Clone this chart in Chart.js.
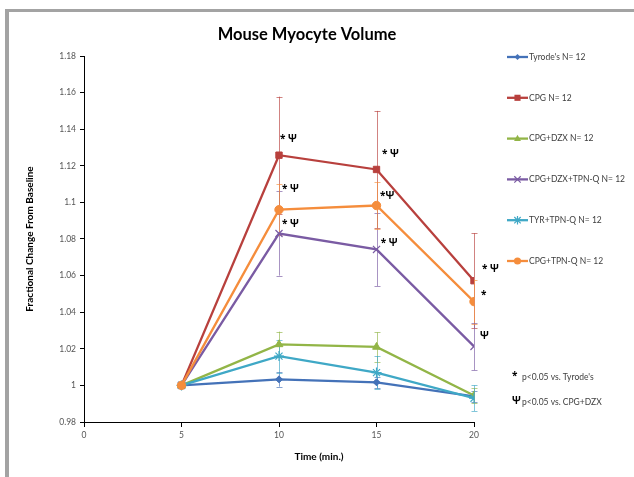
<!DOCTYPE html>
<html><head><meta charset="utf-8">
<script src="https://cdn.jsdelivr.net/npm/chart.js@4.4.0/dist/chart.umd.min.js"></script>
<style>html,body{margin:0;padding:0;background:#fff;overflow:hidden}#wrap{width:634px;height:477px;position:relative}</style>
</head><body><div id="wrap"><canvas id="c" width="634" height="477"></canvas></div>
<script>
const chartTitle = 'Mouse Myocyte Volume';
const xTitle = 'Time (min.)';
const yTitle = 'Fractional Change From Baseline';
const times = [5, 10, 15, 20];
const xTicks = [0, 5, 10, 15, 20];
const yTicks = [0.98, 1.00, 1.02, 1.04, 1.06, 1.08, 1.10, 1.12, 1.14, 1.16, 1.18];
const seriesNames = ["Tyrode's N= 12", 'CPG N= 12', 'CPG+DZX N= 12', 'CPG+DZX+TPN-Q N= 12', 'TYR+TPN-Q N= 12', 'CPG+TPN-Q N= 12'];
const tyrode     = [1.000, 1.0033, 1.0017, 0.9940];
const cpg        = [1.000, 1.1258, 1.1180, 1.0572];
const cpgDzx     = [1.000, 1.0224, 1.0210, 0.9945];
const cpgDzxTpnq = [1.000, 1.0830, 1.0743, 1.0213];
const tyrTpnq    = [1.000, 1.0160, 1.0070, 0.9930];
const cpgTpnq    = [1.000, 1.0960, 1.0983, 1.0458];
const tyrodeErr     = [0, 0.004, 0.003, 0.003];
const cpgErr        = [0, 0.032, 0.032, 0.026];
const cpgDzxErr     = [0, 0.007, 0.008, 0.004];
const cpgDzxTpnqErr = [0, 0.023, 0.020, 0.013];
const tyrTpnqErr    = [0, 0.009, 0.009, 0.007];
const cpgTpnqErr    = [0, 0.014, 0.013, 0.012];
const sigNotes = [
  {x: 10.05, y: 1.1344, text: '* Ψ'},
  {x: 15.28, y: 1.1262, text: '* Ψ'},
  {x: 20.41, y: 1.0634, text: '* Ψ'},
  {x: 10.15, y: 1.1071, text: '* Ψ'},
  {x: 15.18, y: 1.1033, text: '*Ψ'},
  {x: 20.36, y: 1.0492, text: '*'},
  {x: 10.15, y: 1.0880, text: '* Ψ'},
  {x: 15.22, y: 1.0776, text: '* Ψ'},
  {x: 20.31, y: 1.0268, text: 'Ψ'}
];
const footnotes = [
  {sym: '*', text: "p<0.05 vs. Tyrode's"},
  {sym: 'Ψ', text: 'p<0.05 vs. CPG+DZX'}
];

const values = [tyrode, cpg, cpgDzx, cpgDzxTpnq, tyrTpnq, cpgTpnq];
const errs = [tyrodeErr, cpgErr, cpgDzxErr, cpgDzxTpnqErr, tyrTpnqErr, cpgTpnqErr];
const colors = ['#4472B8', '#B8403D', '#92B547', '#7A5BA3', '#3FA8C6', '#F58D3C'];
const styles = ['rectRot', 'rect', 'triangle', 'crossRot', 'star', 'circle'];
const radii = [3.5, 4.5, 4.5, 5, 5, 4.2];
const FONT = 'Lato, "Open Sans", "Liberation Sans", sans-serif';
const SYMFONT = '"Open Sans", Lato, sans-serif';

const datasets = values.map((v, i) => ({
  label: seriesNames[i],
  data: times.map((t, j) => ({x: t, y: v[j]})),
  borderColor: colors[i],
  backgroundColor: colors[i],
  pointBackgroundColor: colors[i],
  pointBorderColor: colors[i],
  pointStyle: styles[i],
  pointRadius: radii[i],
  pointBorderWidth: (styles[i] === 'crossRot' || styles[i] === 'star') ? 1.2 : 1,
  borderWidth: 2.3,
  tension: 0,
  fill: false,
  order: values.length - i
}));

function drawMarker(ctx, style, x, y, r, color) {
  ctx.save();
  ctx.fillStyle = color; ctx.strokeStyle = color; ctx.lineWidth = 1.2;
  ctx.beginPath();
  if (style === 'circle') { ctx.arc(x, y, r, 0, Math.PI * 2); ctx.fill(); }
  else if (style === 'rect') { ctx.fillRect(x - r * 0.8, y - r * 0.8, r * 1.6, r * 1.6); }
  else if (style === 'rectRot') { ctx.moveTo(x, y - r); ctx.lineTo(x + r, y); ctx.lineTo(x, y + r); ctx.lineTo(x - r, y); ctx.closePath(); ctx.fill(); }
  else if (style === 'triangle') { ctx.moveTo(x, y - r); ctx.lineTo(x + r * 0.9, y + r * 0.6); ctx.lineTo(x - r * 0.9, y + r * 0.6); ctx.closePath(); ctx.fill(); }
  else if (style === 'crossRot') { const d = r * 0.75; ctx.moveTo(x - d, y - d); ctx.lineTo(x + d, y + d); ctx.moveTo(x + d, y - d); ctx.lineTo(x - d, y + d); ctx.stroke(); }
  else if (style === 'star') { const d = r * 0.75; ctx.moveTo(x - d, y - d); ctx.lineTo(x + d, y + d); ctx.moveTo(x + d, y - d); ctx.lineTo(x - d, y + d); ctx.moveTo(x, y - r); ctx.lineTo(x, y + r); ctx.stroke(); }
  ctx.restore();
}

const decor = {
  id: 'decor',
  beforeDraw(chart) {
    const ctx = chart.ctx;
    ctx.save();
    ctx.fillStyle = '#fff'; ctx.fillRect(0, 0, chart.width, chart.height);
    ctx.fillStyle = '#A3A3A3';
    ctx.fillRect(5, 9, chart.width - 5, 3);
    ctx.fillRect(5, 9, 4, chart.height - 9);
    ctx.restore();
  },
  beforeDatasetsDraw(chart) {
    const ctx = chart.ctx, xs = chart.scales.x, ys = chart.scales.y;
    ctx.save();
    ctx.lineWidth = 1;
    values.forEach((v, i) => {
      ctx.strokeStyle = colors[i];
      ctx.globalAlpha = 0.65;
      v.forEach((val, j) => {
        const e = errs[i][j];
        if (!e) return;
        const px = Math.round(xs.getPixelForValue(times[j])) + 0.5;
        const top = ys.getPixelForValue(val + e), bot = ys.getPixelForValue(val - e);
        ctx.beginPath();
        ctx.moveTo(px, top); ctx.lineTo(px, bot);
        ctx.moveTo(px - 3, Math.round(top) + 0.5); ctx.lineTo(px + 3, Math.round(top) + 0.5);
        ctx.moveTo(px - 3, Math.round(bot) + 0.5); ctx.lineTo(px + 3, Math.round(bot) + 0.5);
        ctx.stroke();
      });
    });
    ctx.restore();
  },
  afterDraw(chart) {
    const ctx = chart.ctx, xs = chart.scales.x, ys = chart.scales.y, ca = chart.chartArea;
    ctx.save();
    // title
    ctx.fillStyle = '#000';
    ctx.font = 'bold 16.5px ' + FONT;
    ctx.textAlign = 'center'; ctx.textBaseline = 'middle';
    ctx.fillText(chartTitle, 307, 35);
    // x title
    ctx.font = 'bold 10px ' + FONT;
    ctx.fillText(xTitle, (ca.left + ca.right) / 2 + 40, 457);
    // significance notes
    ctx.textAlign = 'left';
    ctx.font = 'bold 10px ' + SYMFONT;
    sigNotes.forEach(n => {
      ctx.fillText(n.text, xs.getPixelForValue(n.x), ys.getPixelForValue(n.y));
    });
    // legend
    const lx = ca.right + 33, ly0 = ca.top + 1, gap = 40.8;
    seriesNames.forEach((name, i) => {
      const y = ly0 + i * gap;
      ctx.strokeStyle = colors[i]; ctx.lineWidth = 2.3;
      ctx.beginPath(); ctx.moveTo(lx, y); ctx.lineTo(lx + 21, y); ctx.stroke();
      drawMarker(ctx, styles[i], lx + 10.5, y, radii[i] * 0.85, colors[i]);
      ctx.fillStyle = '#404040';
      ctx.font = '8.5px ' + FONT;
      ctx.textAlign = 'left'; ctx.textBaseline = 'middle';
      ctx.fillText(name, lx + 22, y);
    });
    // footnotes
    footnotes.forEach((f, i) => {
      const y = 377 + i * 25;
      ctx.fillStyle = '#000';
      ctx.font = 'bold 10px ' + SYMFONT;
      ctx.fillText(f.sym, 512, y - 1);
      ctx.fillStyle = '#404040';
      ctx.font = '8.5px ' + FONT;
      ctx.fillText(f.text, 522, y);
    });
    ctx.restore();
  }
};

new Chart(document.getElementById('c'), {
  type: 'line',
  data: {datasets},
  options: {
    responsive: false,
    animation: false,
    devicePixelRatio: 1,
    layout: {padding: {left: 0, right: 160, top: 56, bottom: 0}},
    plugins: {legend: {display: false}, title: {display: false}, tooltip: {enabled: false}},
    scales: {
      x: {
        type: 'linear', min: 0, max: 20,
        afterBuildTicks: s => { s.ticks = xTicks.map(v => ({value: v})); },
        afterFit: s => { s.height = 55; },
        ticks: {color: '#555', font: {family: FONT, size: 8.5}, padding: 3, callback: v => String(v)},
        grid: {drawOnChartArea: false, drawTicks: true, tickLength: 5, color: '#000'},
        border: {display: true, color: '#000', width: 1}
      },
      y: {
        type: 'linear', min: 0.98, max: 1.18,
        afterBuildTicks: s => { s.ticks = yTicks.map(v => ({value: v})); },
        afterFit: s => { s.width = 84; },
        ticks: {color: '#555', font: {family: FONT, size: 8.5}, padding: 4, callback: v => String(+v.toFixed(2))},
        grid: {drawOnChartArea: false, drawTicks: true, tickLength: 4, color: '#000'},
        border: {display: true, color: '#000', width: 1},
        title: {display: true, text: yTitle, color: '#000', font: {family: FONT, size: 10, weight: 'bold'}, padding: {top: 24, bottom: 0}}
      }
    }
  },
  plugins: [decor]
});
</script>
</body></html>
